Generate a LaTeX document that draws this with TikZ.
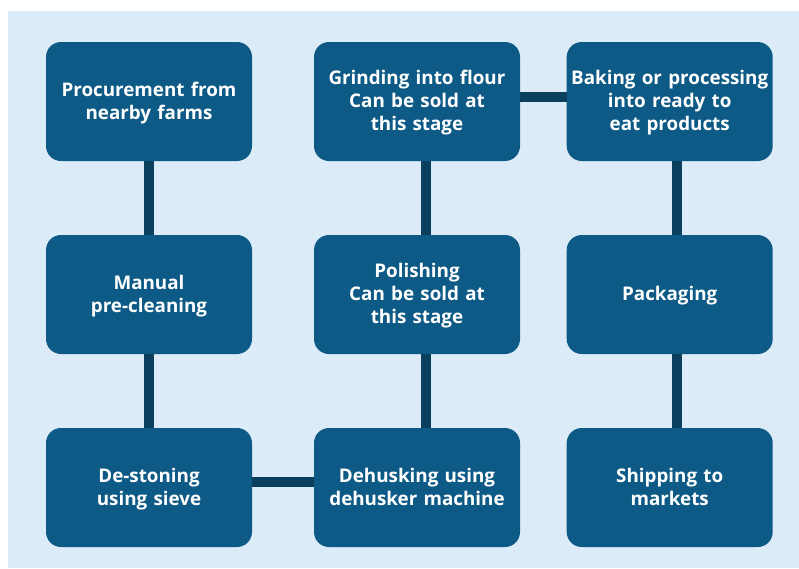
\documentclass[tikz,border=0pt]{standalone}
\usepackage{fontspec}
\setmainfont{Open Sans}
\definecolor{panel}{HTML}{DCEBF8}
\definecolor{boxfill}{HTML}{0E5A86}
\definecolor{linkcol}{HTML}{0A405E}
% strut giving every text line the same height and depth
\newcommand\stagestrut{\rule[-5.4pt]{0pt}{23pt}}
\begin{document}
\begin{tikzpicture}[x=1pt,y=-1pt,
  stage/.style={rectangle, rounded corners=15pt, fill=boxfill, text=white,
    minimum width=206pt, minimum height=119pt, inner sep=0pt,
    text width=204pt, align=center,
    font=\bfseries\fontsize{18.8}{23}\selectfont,
    execute at begin node=\stagestrut, execute at end node=\stagestrut},
  link/.style={draw=linkcol, line width=10pt}]
  \useasboundingbox (0,0) rectangle (799,568);
  \fill[panel] (8,11) rectangle (799,568);

  % column 1
  \node[stage] (proc)  at (149,101.5) {Procurement from\\nearby farms};
  \node[stage] (clean) at (149,294.5) {Manual\\pre-cleaning};
  \node[stage] (stone) at (149,487.5) {De-stoning\\using sieve};
  % column 2
  \node[stage] (grind) at (417,101.5) {Grinding into flour\\Can be sold at\\this stage};
  \node[stage] (polish) at (417,294.5) {Polishing\\Can be sold at\\this stage};
  \node[stage] (husk)  at (417,487.5) {Dehusking using\\dehusker machine};
  % column 3
  \node[stage] (bake)  at (669.7,101.5) {Baking or processing\\into ready to\\eat products};
  \node[stage] (pack)  at (669.7,294.5) {Packaging};
  \node[stage] (ship)  at (669.7,487.5) {Shipping to\\markets};

  % links between the stages
  \draw[link] (proc.south) -- (clean.north);
  \draw[link] (clean.south) -- (stone.north);
  \draw[link] ([yshift=5.5pt]stone.east) -- ([yshift=5.5pt]husk.west);
  \draw[link] ([xshift=9pt]husk.north) -- ([xshift=9pt]polish.south);
  \draw[link] ([xshift=9pt]polish.north) -- ([xshift=9pt]grind.south);
  \draw[link] ([yshift=4.5pt]grind.east) -- ([yshift=4.5pt]bake.west);
  \draw[link] ([xshift=7pt]bake.south) -- ([xshift=7pt]pack.north);
  \draw[link] ([xshift=7pt]pack.south) -- ([xshift=7pt]ship.north);
\end{tikzpicture}
\end{document}
